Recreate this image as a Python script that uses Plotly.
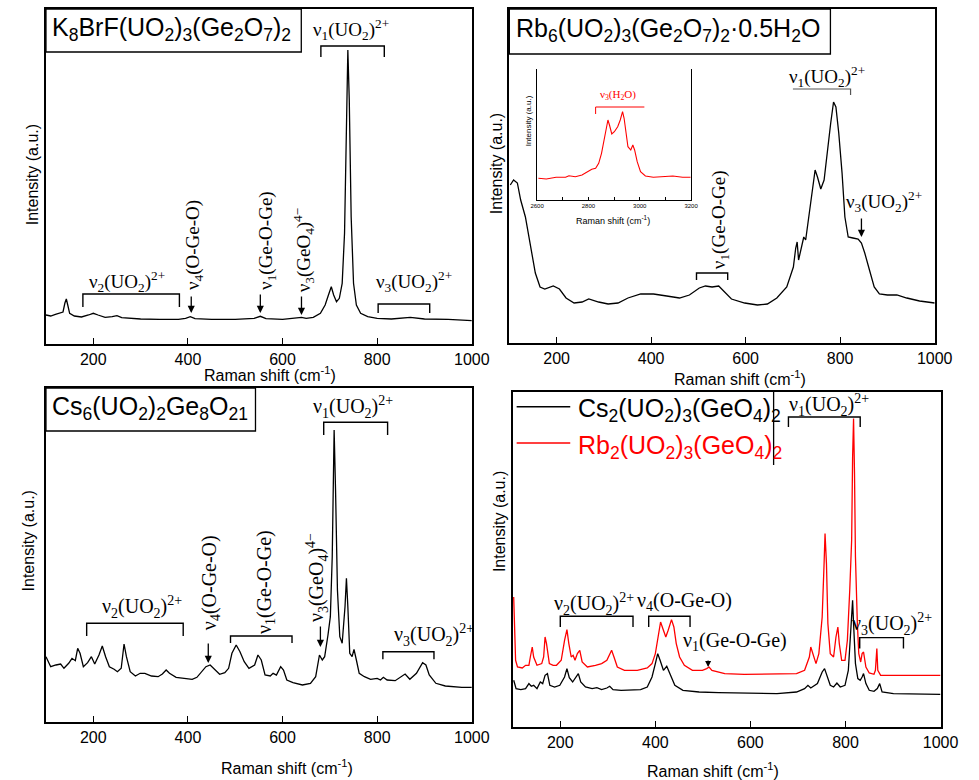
import plotly.graph_objects as go

W, H = 979, 780

# ---------------- data (arbitrary intensity units) ----------------
# Panel A: K8BrF(UO2)3(Ge2O7)2
k8_shift = [100, 110, 120, 130, 136, 140, 143, 146, 150, 160, 175, 190, 200, 210, 225, 240, 250, 260,
            280, 300, 340, 380, 395, 405, 415, 450, 500, 540, 553, 565, 600, 630, 640, 650, 665, 680,
            690, 697, 703, 708, 714, 720, 726, 731, 735, 738, 741, 745, 750, 756, 765, 780, 800, 830,
            870, 900, 950, 1000]
k8_int = [29, 28, 29.7, 30.7, 32, 41, 45, 39, 30.7, 28, 27, 29, 30.7, 29, 26.7, 27.3, 28.3, 26.3,
          25.7, 25, 24.7, 24.7, 25.7, 27.3, 25.3, 24.7, 24.7, 25.7, 27.7, 25.3, 24.7, 25.7, 26.7, 25.7,
          26.7, 30.7, 39, 49, 57.3, 49, 42.3, 45.7, 60.7, 110.7, 227, 294, 244, 127, 60.7, 39, 30.7,
          27.3, 25.7, 25, 26.7, 25, 24.7, 23.3]

# Panel B: Rb6(UO2)3(Ge2O7)2·0.5H2O
rb6_shift = [102, 109, 117, 124, 134, 145, 155, 165, 175, 193, 206, 220, 237, 254, 268, 289, 309, 330,
             351, 378, 405, 433, 460, 481, 502, 515, 529, 543, 556, 570, 598, 625, 646, 666, 687, 701,
             706, 709, 712, 718, 723, 727, 735, 742, 747, 752, 759, 766, 773, 780, 786, 791, 797, 804,
             810, 817, 827, 838, 845, 852, 862, 872, 883, 900, 920, 941, 968, 1000]
rb6_int = [158, 163, 160, 143, 126, 96, 70, 56, 54, 57, 54, 45, 40, 41, 44, 41, 39, 40,
           45, 49, 49, 47, 45, 48, 55, 57, 56, 57, 51, 44, 40, 38, 39, 45, 56, 76,
           95, 101, 83, 96, 106, 103, 130, 156, 173, 166, 154, 163, 193, 220, 241, 236, 210, 170,
           126, 106, 105, 104, 100, 90, 73, 56, 49, 48, 48, 45, 42, 40]

# Inset: O-H stretching region of Rb6(UO2)3(Ge2O7)2·0.5H2O
h2o_shift = [2605, 2636, 2674, 2711, 2724, 2749, 2775, 2800, 2813, 2828, 2840, 2851, 2861, 2870, 2876,
             2882, 2891, 2901, 2914, 2924, 2933, 2939, 2946, 2954, 2965, 2973, 2980, 2990, 3003, 3022,
             3053, 3091, 3129, 3167, 3198]
h2o_int = [21.7, 21, 22.7, 22.7, 24.3, 23.3, 25, 28.3, 30.7, 31.7, 36.7, 46.7, 61.7, 75, 80,
           75, 66, 68.3, 73.3, 80, 88.3, 81.7, 66.7, 53.3, 50, 55, 50, 38.3, 28.3, 24,
           22.7, 23.3, 24, 22.7, 22.7]

# Panel C: Cs6(UO2)2Ge8O21
cs6_shift = [100, 110, 121, 131, 138, 148, 155, 162, 167, 172, 179, 188, 196, 203, 212, 219, 226, 234,
             244, 251, 259, 265, 270, 278, 289, 299, 309, 323, 337, 346, 354, 361, 375, 392, 409, 419,
             428, 433, 438, 447, 457, 467, 478, 486, 493, 502, 510, 519, 529, 541, 548, 555, 563, 574,
             580, 587, 596, 602, 609, 622, 642, 659, 670, 678, 684, 689, 696, 701, 705, 709, 712, 716,
             721, 726, 732, 735, 738, 742, 747, 751, 756, 762, 773, 786, 800, 807, 813, 821, 838, 848,
             859, 869, 883, 896, 903, 910, 924, 944, 979, 1000]
cs6_int = [65.3, 55.3, 57, 58, 53.7, 58.7, 63.7, 61.3, 73.7, 68.7, 55.3, 59.3, 65.3, 58, 67, 76, 65.3, 55.3,
           52.7, 50.3, 53.7, 78, 65.3, 50.3, 46, 48.7, 48.7, 46, 45.3, 48, 52, 48.7, 44.7, 43.7, 42.7, 44.7,
           50.3, 52.7, 55.3, 57, 52.7, 47.7, 49.3, 53.7, 68.7, 77, 70.3, 60.3, 53.7, 57, 67, 62, 47, 46,
           48.7, 47, 55.3, 52, 42, 39.3, 37, 38.7, 45.3, 67, 62, 65.3, 87, 105.3, 165.3, 292, 232, 132,
           85.3, 78.7, 115.3, 143.7, 115.3, 68.7, 65.3, 72.7, 62, 48.7, 45.3, 42.7, 43.7, 42, 44.7, 42, 41.3, 44.7,
           48, 42.7, 48.7, 59.3, 57, 47, 38.7, 36, 34.7, 34.7]

# Panel D: Cs2(UO2)3(GeO4)2 (black) and Rb2(UO2)3(GeO4)2 (red)
cs2_shift = [102, 107, 117, 127, 134, 139, 144, 151, 158, 163, 168, 173, 178, 188, 199, 209, 214, 219,
             226, 233, 238, 243, 253, 267, 277, 287, 298, 304, 311, 328, 349, 369, 383, 393, 400, 405,
             410, 417, 424, 431, 441, 458, 492, 533, 587, 656, 697, 714, 721, 727, 741, 751, 756, 761,
             768, 775, 782, 789, 799, 806, 811, 815, 817, 821, 826, 831, 835, 838, 843, 850, 860, 867,
             872, 877, 901, 928, 962, 1000]
cs2_int = [46.7, 38.4, 37.4, 38.4, 43.4, 40.7, 41.7, 38.4, 45, 43.4, 51.7, 53.4, 41.7, 40, 41.7, 50, 58.4, 49.4,
           45, 49.4, 53.4, 45, 40, 38.4, 39.4, 37.4, 39, 40.7, 37.4, 36.7, 36.7, 37.4, 40, 50, 63.4, 73.4,
           66.7, 56.7, 60.7, 53.4, 41.7, 36.7, 35, 34.4, 34, 33.4, 35, 38.4, 41.7, 39, 43.4, 55, 58.4, 51.7,
           41.7, 40, 44, 40, 41.7, 56.7, 96.7, 126.7, 103.4, 63.4, 48.4, 46.7, 50, 53.4, 43.4, 36.7, 35.7, 38.4,
           43.4, 35, 33.4, 33.4, 32.7, 32.7]

rb2_shift = [102, 103.6, 106, 110, 120, 127, 134, 137, 141, 144, 151, 161, 165, 168, 171, 177, 185, 192,
             202, 209, 214, 218, 223, 227, 231, 236, 241, 246, 257, 274, 287, 298, 308, 313, 320, 335,
             362, 383, 393, 400, 407, 411, 417, 422, 427, 434, 439, 444, 451, 461, 478, 499, 508, 513,
             519, 546, 587, 656, 697, 714, 724, 727, 731, 738, 744, 751, 755, 757, 760, 763, 768, 775,
             780, 784, 787, 792, 799, 804, 809, 813, 815, 817, 819, 821, 825, 828, 832, 835, 838, 843,
             850, 860, 863, 866, 868, 874, 901, 1000]
rb2_int = [130, 103.4, 66.7, 60, 59, 61.7, 61.7, 70, 80, 70, 61.7, 63.4, 70, 90, 83.4, 63.4, 61.7, 61.7,
           66.7, 86.7, 97.4, 83.4, 70, 71.7, 66.7, 73.4, 76.7, 65, 60, 61.7, 63.4, 66.7, 76.7, 70, 60, 56.7,
           56.7, 59, 63.4, 73.4, 93.4, 105, 96.7, 90, 96.7, 107.4, 100, 83.4, 70, 61.7, 56.7, 56.7, 58.4, 60,
           56.7, 53.4, 52.7, 52.7, 53.4, 56.7, 70, 80, 73.4, 63.4, 73.4, 110, 163.4, 193.4, 163.4, 103.4, 73.4, 70,
           90, 100, 83.4, 66.7, 66.7, 86.7, 136.7, 186.7, 270, 308.4, 253.4, 170, 103.4, 73.4, 65, 73.4, 75, 60,
           54, 52.7, 56.7, 78.4, 56.7, 51.7, 51.7, 51.7]

tick_values = [200, 400, 600, 800, 1000]
inset_ticks = [2600, 2800, 3000, 3200]

# ---------------- helpers ----------------
SANS = "Liberation Sans"
SERIF = "Liberation Serif"


def px(x):
    return x / W


def py(y):
    return 1 - y / H


def dom_x(a, b):
    return [a / W, b / W]


def dom_y(top, bottom):
    return [1 - bottom / H, 1 - top / H]


fig = go.Figure()

fig.add_trace(go.Scatter(x=k8_shift, y=k8_int, mode="lines", line=dict(color="black", width=1.3),
                         xaxis="x", yaxis="y", showlegend=False))
fig.add_trace(go.Scatter(x=rb6_shift, y=rb6_int, mode="lines", line=dict(color="black", width=1.3),
                         xaxis="x2", yaxis="y2", showlegend=False))
fig.add_trace(go.Scatter(x=cs6_shift, y=cs6_int, mode="lines", line=dict(color="black", width=1.3),
                         xaxis="x3", yaxis="y3", showlegend=False))
fig.add_trace(go.Scatter(x=cs2_shift, y=cs2_int, mode="lines", line=dict(color="black", width=1.3),
                         xaxis="x4", yaxis="y4", showlegend=False))
fig.add_trace(go.Scatter(x=rb2_shift, y=rb2_int, mode="lines", line=dict(color="#ff0000", width=1.3),
                         xaxis="x4", yaxis="y4", showlegend=False))
fig.add_trace(go.Scatter(x=h2o_shift, y=h2o_int, mode="lines", line=dict(color="#ff0000", width=1.1),
                         xaxis="x5", yaxis="y5", showlegend=False))


def xax(domain, anchor):
    return dict(domain=domain, anchor=anchor, range=[100, 1000], tickvals=tick_values,
                ticks="inside", ticklen=6, tickwidth=1, tickcolor="black",
                showline=True, linecolor="black", linewidth=1.5, mirror=True,
                showgrid=False, zeroline=False,
                tickfont=dict(family=SANS, size=16, color="black"))


def yax(domain, anchor, top):
    return dict(domain=domain, anchor=anchor, range=[0, top], showticklabels=False, ticks="",
                showline=True, linecolor="black", linewidth=1.5, mirror=True,
                showgrid=False, zeroline=False)


layout = dict(
    width=W, height=H, margin=dict(l=0, r=0, t=0, b=0),
    paper_bgcolor="white", plot_bgcolor="white", showlegend=False,
    xaxis=xax(dom_x(40, 477), "y"), yaxis=yax(dom_y(9, 344), "x", 335),
    xaxis2=xax(dom_x(515.5, 952), "y2"), yaxis2=yax(dom_y(9, 343), "x2", 334),
    xaxis3=xax(dom_x(40, 477), "y3"), yaxis3=yax(dom_y(388, 722), "x3", 334),
    xaxis4=xax(dom_x(519, 958), "y4"), yaxis4=yax(dom_y(392, 727), "x4", 335),
    xaxis5=dict(domain=dom_x(544, 702), anchor="y5", range=[2600, 3200], tickvals=inset_ticks,
                ticks="inside", ticklen=3, tickcolor="black", showline=True, linecolor="black",
                linewidth=1, mirror=False, showgrid=False, zeroline=False,
                minor=dict(dtick=100, ticks="inside", ticklen=3, tickcolor="black"),
                tickfont=dict(family=SANS, size=6, color="black")),
    yaxis5=dict(domain=dom_y(69, 200), anchor="x5", range=[0, 131], showticklabels=False, ticks="",
                showline=True, linecolor="black", linewidth=1, mirror=True, showgrid=False, zeroline=False),
)
fig.update_layout(**layout)

annotations = []
shapes = []


def paper_text(text, x, y, size, color="black", family=SANS, angle=0, xanchor="center"):
    annotations.append(dict(text=text, x=px(x), y=py(y), xref="paper", yref="paper", showarrow=False,
                            xanchor=xanchor, yanchor="middle", textangle=angle,
                            font=dict(family=family, size=size, color=color)))


def label(ax, text, x, y, size=19, angle=0, color="black"):
    annotations.append(dict(text=text, x=x, y=y, xref="x" + ax, yref="y" + ax, showarrow=False,
                            xanchor="center", yanchor="middle", textangle=angle,
                            font=dict(family=SERIF, size=size, color=color)))


def bracket(ax, x0, x1, top, bottom, color="black", width=1.4):
    shapes.append(dict(type="path", xref="x" + ax, yref="y" + ax,
                       path=f"M {x0},{bottom} L {x0},{top} L {x1},{top} L {x1},{bottom}",
                       line=dict(color=color, width=width)))


def arrow(ax, x, y_tail, y_head):
    annotations.append(dict(text="", x=x, y=y_head, ax=x, ay=y_tail, xref="x" + ax, yref="y" + ax,
                            axref="x" + ax, ayref="y" + ax, showarrow=True, arrowhead=2,
                            arrowsize=1.1, arrowwidth=1.3, arrowcolor="black"))


def box(x0, y0, x1, y1):
    shapes.append(dict(type="rect", xref="paper", yref="paper", x0=px(x0), x1=px(x1), y0=py(y1), y1=py(y0),
                       line=dict(color="black", width=1.3), fillcolor="white", layer="above"))


# axis titles
xtitle = "Raman shift (cm<sup>-1</sup>)"
ytitle = "Intensity (a.u.)"
for (xc, yc) in [(270, 374), (752, 378), (287, 767), (725, 770)]:
    paper_text(xtitle, xc, yc, 16)
for (xc, yc) in [(27, 175), (502, 164), (22, 541), (505, 522)]:
    paper_text(ytitle, xc, yc, 16, angle=-90)

# compound title boxes
box(40, 9, 302, 52)
paper_text("K<sub>8</sub>BrF(UO<sub>2</sub>)<sub>3</sub>(Ge<sub>2</sub>O<sub>7</sub>)<sub>2</sub>", 44, 29, 25,
           xanchor="left")
box(515.5, 9, 845, 54)
paper_text("Rb<sub>6</sub>(UO<sub>2</sub>)<sub>3</sub>(Ge<sub>2</sub>O<sub>7</sub>)<sub>2</sub>·0.5H<sub>2</sub>O",
           520, 30, 25, xanchor="left")
box(40, 388, 255, 431)
paper_text("Cs<sub>6</sub>(UO<sub>2</sub>)<sub>2</sub>Ge<sub>8</sub>O<sub>21</sub>", 44, 408, 25, xanchor="left")

# panel D legend
shapes.append(dict(type="line", xref="paper", yref="paper", x0=px(786.7), x1=px(786.7), y0=py(465), y1=py(392),
                   line=dict(color="black", width=1.3)))
shapes.append(dict(type="line", xref="paper", yref="paper", x0=px(523), x1=px(578), y0=py(406.7), y1=py(406.7),
                   line=dict(color="black", width=1.5)))
shapes.append(dict(type="line", xref="paper", yref="paper", x0=px(523), x1=px(578), y0=py(443), y1=py(443),
                   line=dict(color="#ff0000", width=1.3)))
paper_text("Cs<sub>2</sub>(UO<sub>2</sub>)<sub>3</sub>(GeO<sub>4</sub>)<sub>2</sub>", 584, 410, 25, xanchor="left")
paper_text("Rb<sub>2</sub>(UO<sub>2</sub>)<sub>3</sub>(GeO<sub>4</sub>)<sub>2</sub>", 584, 447, 25, color="#ff0000",
           xanchor="left")

nu1U = "ν<sub>1</sub>(UO<sub>2</sub>)<sup>2+</sup>"
nu2U = "ν<sub>2</sub>(UO<sub>2</sub>)<sup>2+</sup>"
nu3U = "ν<sub>3</sub>(UO<sub>2</sub>)<sup>2+</sup>"
nu4 = "ν<sub>4</sub>(O-Ge-O)"
nu1G = "ν<sub>1</sub>(Ge-O-Ge)"
nu3G = "ν<sub>3</sub>(GeO<sub>4</sub>)<sup>4−</sup>"

# Panel A annotations
label("", nu1U, 745, 314)
bracket("", 681, 815, 298, 287)
label("", nu2U, 271, 62)
bracket("", 178, 382, 50, 37)
label("", nu3U, 878, 62)
bracket("", 802, 911, 40, 31)
label("", nu4, 413, 99, angle=-90)
arrow("", 407, 49, 31)
label("", nu1G, 567, 104, angle=-90)
arrow("", 553, 51, 31)
label("", nu3G, 646, 94, angle=-90)
arrow("", 640, 49, 29)

# Panel B annotations
label("2", nu1U, 773, 266)
shapes.append(dict(type="path", xref="x2", yref="y2", path="M 700,254 L 822,254 L 822,248",
                   line=dict(color="#555555", width=1.2)))
label("2", nu3U, 893, 141)
arrow("2", 845, 126, 106)
label("2", nu1G, 546, 123, angle=-90)
bracket("2", 496, 562, 70, 63)

# Inset annotations
label("5", "ν<sub>3</sub>(H<sub>2</sub>O)", 2914, 105, size=11, color="#ff0000")
shapes.append(dict(type="path", xref="x5", yref="y5", path="M 2828,86 L 2828,93 L 3018,93",
                   line=dict(color="#ff0000", width=1)))
paper_text(ytitle, 535, 121, 8, angle=-90)
paper_text(xtitle, 622, 220, 9)

# Panel C annotations
label("3", nu1U, 748, 315, size=20)
bracket("3", 687, 822, 299.7, 287)
label("3", nu2U, 302, 115, size=20)
bracket("3", 186, 390, 98.7, 86)
label("3", nu4, 447, 139, size=20, angle=-90)
arrow("3", 443, 80, 59)
label("3", nu1G, 563, 140, size=20, angle=-90)
bracket("3", 490, 620, 86, 79)
label("3", nu3G, 673, 144, size=20, angle=-90)
arrow("3", 680, 97, 75)
label("3", nu3U, 920, 87, size=20)
bracket("3", 812, 920, 70.3, 62.7)

# Panel D annotations
label("4", "ν<sub>1</sub>(UO<sub>2</sub>)<sup>2+</sup>", 765, 322, size=20)
bracket("4", 680, 831, 310, 300)
label("4", nu2U, 270, 123, size=20)
bracket("4", 200, 353, 110.7, 100)
label("4", nu4, 461, 126, size=20)
bracket("4", 386, 473, 110.7, 100)
label("4", nu1G, 567, 86, size=20)
annotations.append(dict(text="", x=511, y=60, ax=511, ay=68, xref="x4", yref="y4", axref="x4", ayref="y4",
                        showarrow=True, arrowhead=2, arrowsize=1, arrowwidth=1.2, arrowcolor="black"))
label("4", nu3U, 898, 103, size=20)
bracket("4", 830, 922, 89.4, 78.4)

fig.update_layout(annotations=annotations, shapes=shapes)

fig.write_html("out.html")
